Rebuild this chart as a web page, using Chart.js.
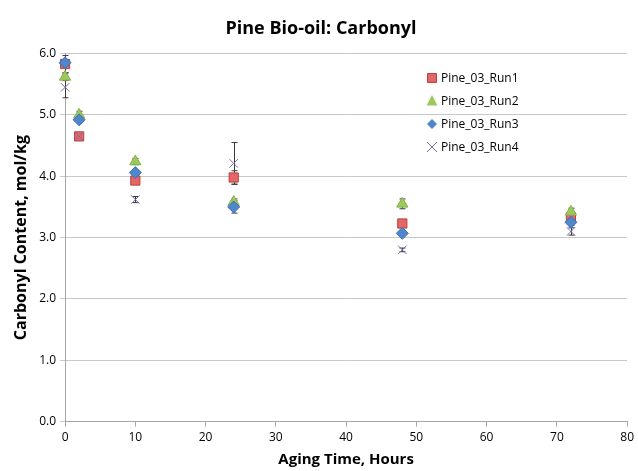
<!DOCTYPE html>
<html>
<head>
<meta charset="utf-8">
<script src="https://cdn.jsdelivr.net/npm/chart.js@4.4.1/dist/chart.umd.min.js"></script>
<style>
  html, body { margin: 0; padding: 0; background: #fff; }
  #wrap { width: 638px; height: 471px; }
</style>
</head>
<body>
<div id="wrap"><canvas id="carbonylChart" width="638" height="471"></canvas></div>
<script>
// aging times (hours)
var hours = [0, 2, 10, 24, 48, 72];
var yTicks = [0, 1, 2, 3, 4, 5, 6];

// carbonyl content, mol/kg
var run1 = [5.83, 4.65, 3.93, 3.98, 3.23, 3.33];
var run2 = [5.62, 5.00, 4.24, 3.58, 3.55, 3.42];
var run3 = [5.85, 4.92, 4.06, 3.50, 3.07, 3.25];
var run4 = [5.45, 4.65, 3.62, 4.21, 2.80, 3.10];

// error bar half-widths
var err1 = [0.14, 0.03, 0.03, 0.11, 0.04, 0.05];
var err2 = [0.06, 0.06, 0.05, 0.05, 0.08, 0.06];
var err3 = [0.04, 0.03, 0.03, 0.10, 0.04, 0.05];
var err4 = [0.17, 0.03, 0.05, 0.34, 0.03, 0.06];

var fontFam = '"Open Sans", "Liberation Sans", sans-serif';

function pts(vals) {
    return hours.map(function (h, i) { return { x: h, y: vals[i] }; });
}

var errorBars = {
    id: 'errorBars',
    beforeDatasetsDraw: function (chart) {
        var ctx = chart.ctx;
        var xs = chart.scales.x, ys = chart.scales.y;
        var errs = [err1, err2, err3, err4];
        ctx.save();
        ctx.strokeStyle = '#3a3a3a';
        ctx.lineWidth = 1;
        chart.data.datasets.forEach(function (ds, d) {
            ds.data.forEach(function (p, i) {
                var e = errs[d][i];
                var px = Math.round(xs.getPixelForValue(p.x)) + 0.5;
                var top = ys.getPixelForValue(p.y + e);
                var bot = ys.getPixelForValue(p.y - e);
                ctx.beginPath();
                ctx.moveTo(px, top); ctx.lineTo(px, bot);
                ctx.moveTo(px - 3, top); ctx.lineTo(px + 3, top);
                ctx.moveTo(px - 3, bot); ctx.lineTo(px + 3, bot);
                ctx.stroke();
            });
        });
        ctx.restore();
    }
};

var boxLegend = {
    id: 'boxLegend',
    afterDraw: function (chart) {
        var ctx = chart.ctx;
        var lx = 432, ly = 78, gap = 23;
        ctx.save();
        ctx.font = '12px ' + fontFam;
        ctx.textBaseline = 'middle';
        chart.data.datasets.forEach(function (ds, d) {
            var y = ly + d * gap;
            ctx.fillStyle = ds.backgroundColor;
            ctx.strokeStyle = ds.borderColor;
            ctx.lineWidth = 1;
            ctx.beginPath();
            if (d === 0) {
                ctx.rect(lx - 4.5, y - 4.5, 9, 9);
                ctx.fill(); ctx.stroke();
            } else if (d === 1) {
                ctx.moveTo(lx, y - 6); ctx.lineTo(lx + 5.5, y + 4.5); ctx.lineTo(lx - 5.5, y + 4.5);
                ctx.closePath(); ctx.fill();
            } else if (d === 2) {
                ctx.moveTo(lx, y - 5); ctx.lineTo(lx + 5, y); ctx.lineTo(lx, y + 5); ctx.lineTo(lx - 5, y);
                ctx.closePath(); ctx.fill();
            } else {
                ctx.moveTo(lx - 5, y - 5); ctx.lineTo(lx + 5, y + 5);
                ctx.moveTo(lx + 5, y - 5); ctx.lineTo(lx - 5, y + 5);
                ctx.stroke();
            }
            ctx.fillStyle = '#000';
            ctx.fillText(ds.label, lx + 9, y + 1);
        });
        ctx.restore();
    }
};

var ctx = document.getElementById('carbonylChart').getContext('2d');
var carbonylChart = new Chart(ctx, {
    type: 'scatter',
    data: {
        datasets: [{
            label: 'Pine_03_Run1',
            data: pts(run1),
            order: 4,
            pointStyle: 'rect',
            pointRadius: 6.5,
            backgroundColor: '#e46666',
            borderColor: '#b8403d',
            borderWidth: 1,
            clip: false
        }, {
            label: 'Pine_03_Run2',
            data: pts(run2),
            order: 3,
            pointStyle: 'triangle',
            pointRadius: 6.5,
            backgroundColor: '#9bc95e',
            borderColor: '#86b04c',
            borderWidth: 1,
            clip: false
        }, {
            label: 'Pine_03_Run3',
            data: pts(run3),
            order: 2,
            pointStyle: 'rectRot',
            pointRadius: 6,
            backgroundColor: '#4f86cc',
            borderColor: '#3f70b0',
            borderWidth: 1,
            clip: false
        }, {
            label: 'Pine_03_Run4',
            data: pts(run4),
            order: 1,
            pointStyle: 'crossRot',
            pointRadius: 6,
            backgroundColor: '#7d6aa8',
            borderColor: '#7d6aa8',
            borderWidth: 1,
            clip: false
        }]
    },
    options: {
        responsive: false,
        animation: false,
        layout: { padding: { left: 12, right: 8, top: 8, bottom: 2 } },
        plugins: {
            legend: { display: false },
            tooltip: { enabled: false },
            title: {
                display: true,
                text: 'Pine Bio-oil: Carbonyl',
                color: '#000',
                font: { family: fontFam, size: 18, weight: 'bold' },
                padding: { top: 10, bottom: 14 }
            }
        },
        scales: {
            x: {
                type: 'linear',
                min: 0,
                max: 80,
                ticks: {
                    stepSize: 10,
                    color: '#000',
                    padding: 4,
                    font: { family: fontFam, size: 12 }
                },
                grid: { drawOnChartArea: false, drawTicks: true, tickLength: 5, color: '#a6a6a6' },
                border: { color: '#a6a6a6' },
                title: {
                    display: true,
                    text: 'Aging Time, Hours',
                    color: '#000',
                    font: { family: fontFam, size: 15, weight: 'bold' },
                    padding: { top: 2, bottom: 0 }
                }
            },
            y: {
                min: 0,
                max: 6,
                afterBuildTicks: function (axis) {
                    axis.ticks = yTicks.map(function (v) { return { value: v }; });
                },
                ticks: {
                    color: '#000',
                    padding: 4,
                    font: { family: fontFam, size: 12 },
                    callback: function (v) { return Number(v).toFixed(1); }
                },
                grid: { color: '#c8c8c8', tickLength: 5 },
                border: { color: '#a6a6a6' },
                title: {
                    display: true,
                    text: 'Carbonyl Content, mol/kg',
                    color: '#000',
                    font: { family: fontFam, size: 16, weight: 'bold' },
                    padding: { top: 0, bottom: 4 }
                }
            }
        }
    },
    plugins: [errorBars, boxLegend]
});
</script>
</body>
</html>
